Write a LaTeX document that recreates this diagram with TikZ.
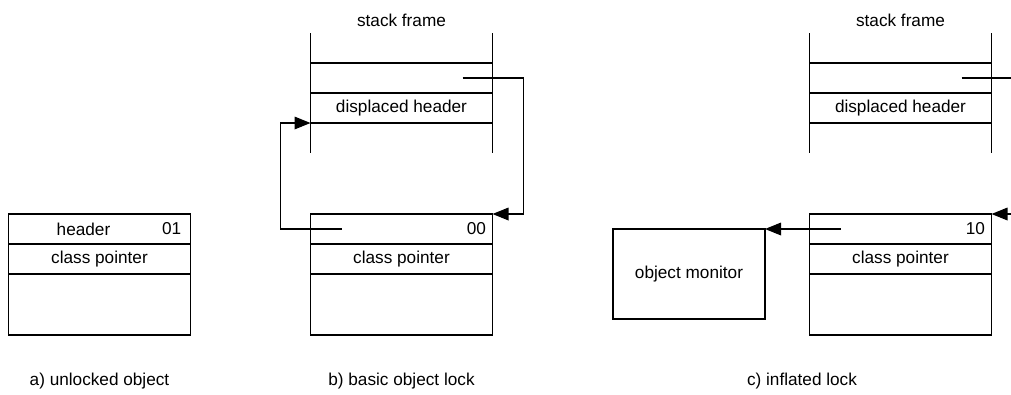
\documentclass[tikz,border=0pt]{standalone}
\usepackage{fontspec}
\setmainfont{Liberation Sans}
\usetikzlibrary{positioning,arrows.meta}

\tikzset{
    cell/.style={draw, rectangle, minimum width=136.5pt, minimum height=22.5pt, inner sep=0pt, outer sep=0pt},
    body/.style={cell, minimum height=45.75pt},
    tag/.style={anchor=east, inner sep=4.5pt},
    ptr/.style={-{Triangle[length=12pt,width=9.5pt]}},
}

\begin{document}
\begin{tikzpicture}[x=0.75pt, y=-0.75pt, line width=0.9pt, font=\fontsize{12.9}{15}\selectfont]
                \useasboundingbox (0,0) rectangle (1011,394);
                \clip (0,0) rectangle (1011,394);

                % a) unlocked object
                \node[cell] (hdrA) at (99.5,229) {};
                \node[cell] (cpA) [below=0pt of hdrA] {class pointer};
                \node[body] (bodyA) [below=0pt of cpA] {};
                \node (hdrtxtA) at ([xshift=-12pt]hdrA.center) {header};
                \node[tag, xshift=-2pt] (tagA) at (hdrA.east) {01};
                \node (capA) at (99.5,381) {a) unlocked object};

                % b) basic object lock
                \node[cell] (slotB1) at (401.5,78) {};
                \node[cell] (slotB2) [below=0pt of slotB1] {displaced header};
                \node (sfB) at (401.5,20) {stack frame};
                \draw (slotB1.north west) ++(0,-30) -- ++(0,120);
                \draw (slotB1.north east) ++(0,-30) -- ++(0,120);

                \node[cell] (hdrB) at (401.5,229) {};
                \node[cell] (cpB) [below=0pt of hdrB] {class pointer};
                \node[body] (bodyB) [below=0pt of cpB] {};
                \node[tag] (tagB) at (hdrB.east) {00};
                \node (capB) at (401.5,381) {b) basic object lock};

                \coordinate (srcB1) at ([xshift=-22.5pt]slotB1.east);
                \coordinate (bendB1) at ([xshift=23.25pt]slotB1.east);
                \coordinate (srcB2) at ([xshift=23.25pt]hdrB.west);
                \coordinate (bendB2) at ([xshift=-22.5pt]hdrB.west);
                \draw[ptr] (srcB1) -- (bendB1) |- (hdrB.north east);
                \draw[ptr] (srcB2) -- (bendB2) |- (slotB2.south west);

                % c) inflated lock
                \node[cell] (slotC1) at (900.5,78) {};
                \node[cell] (slotC2) [below=0pt of slotC1] {displaced header};
                \node (sfC) at (900.5,20) {stack frame};
                \draw (slotC1.north west) ++(0,-30) -- ++(0,120);
                \draw (slotC1.north east) ++(0,-30) -- ++(0,120);

                \node[cell] (hdrC) at (900.5,229) {};
                \node[cell] (cpC) [below=0pt of hdrC] {class pointer};
                \node[body] (bodyC) [below=0pt of cpC] {};
                \node[tag] (tagC) at (hdrC.east) {10};
                \node[draw, minimum width=114pt, minimum height=67.5pt, outer sep=0pt] (monC) at (689,274) {object monitor};
                \node (capC) at (802,381) {c) inflated lock};

                \coordinate (srcC1) at ([xshift=-22.5pt]slotC1.east);
                \coordinate (bendC1) at ([xshift=22.5pt]slotC1.east);
                \coordinate (srcC2) at ([xshift=23.25pt]hdrC.west);
                \draw[ptr] (srcC1) -- (bendC1) |- (hdrC.north east);
                \draw[ptr] (srcC2) -- (monC.north east);
            \end{tikzpicture}
\end{document}
